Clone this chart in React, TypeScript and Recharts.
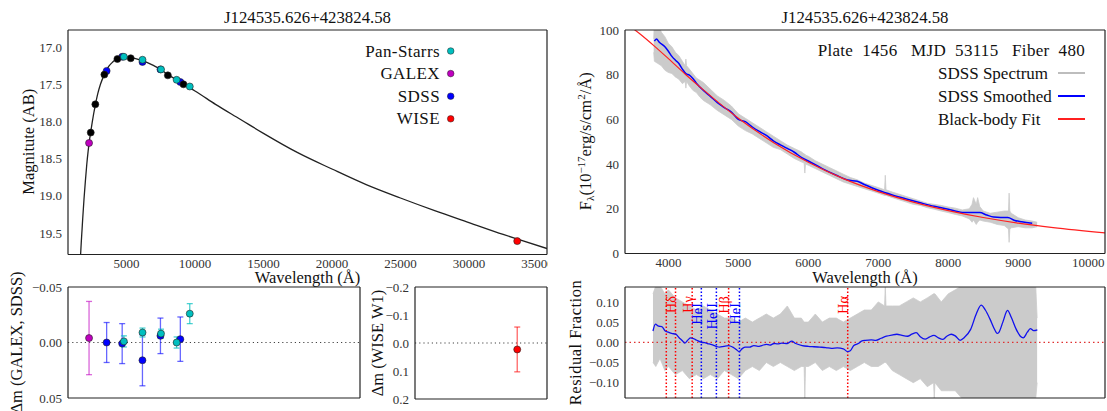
import React from "react";
import {
  ComposedChart,
  Line,
  Area,
  Scatter,
  XAxis,
  YAxis,
  ErrorBar,
  ReferenceLine,
} from "recharts";

const FONT = "'Liberation Serif', 'Times New Roman', serif";
const TITLE = "J124535.626+423824.58";

// ---------- SED panel (top left) ----------
const sedCurveWave = [
  1650, 1700, 1754, 1800, 1900, 2000, 2100, 2200, 2300, 2390, 2500, 2600, 2725, 2900, 3100,
  3385, 3700, 4000, 4335, 4800, 5310, 6100, 7000, 7500, 8020, 8660, 9160, 10000, 11500,
  13300, 15000, 17500, 20000, 22500, 25000, 27500, 30000, 32500, 33500, 35700,
];
const sedCurveMag = [
  19.79, 19.62, 19.46, 19.32, 19.04, 18.8, 18.58, 18.4, 18.25, 18.14, 18.01, 17.9, 17.78,
  17.63, 17.5, 17.37, 17.26, 17.2, 17.15, 17.13, 17.14, 17.18, 17.25, 17.3, 17.37, 17.44,
  17.5, 17.59, 17.77, 17.97, 18.16, 18.42, 18.64, 18.85, 19.03, 19.2, 19.36, 19.52, 19.58,
  19.71,
];
const modelWave = [2390, 2725, 3385, 4335, 5310, 8020, 9160];
const modelMag = [18.15, 17.77, 17.37, 17.16, 17.15, 17.38, 17.5];

const galexWave = [2267];
const galexMag = [18.29];
const galexDelta = [-0.004];
const galexErr = [0.033];

const sdssWave = [3551, 4686, 6166, 7480, 8932];
const sdssMag = [17.32, 17.13, 17.2, 17.3, 17.47];
const sdssDelta = [0.0, 0.001, 0.016, -0.006, -0.003];
const sdssErr = [0.018, 0.018, 0.023, 0.016, 0.02];

const psWave = [4810, 6170, 7520, 8660, 9620];
const psMag = [17.13, 17.17, 17.3, 17.44, 17.53];
const psDelta = [-0.001, -0.009, -0.008, 0.0, -0.026];
const psErr = [0.005, 0.004, 0.004, 0.005, 0.009];

const wiseWave = [33526];
const wiseMag = [19.61];
const wiseMagErr = [0.04];
const wiseDelta = [0.023];
const wiseErr = [0.08];

const legendNames = ["Pan-Starrs", "GALEX", "SDSS", "WISE"];
const CYAN = "#00bfbf";
const MAGENTA = "#bf00bf";
const BLUE = "#0000ff";
const RED = "#ff0000";
const legendColors = [CYAN, MAGENTA, BLUE, RED];

const sedWaveTicks = [5000, 10000, 15000, 20000, 25000, 30000, 35000];
const sedMagTicks = [17.0, 17.5, 18.0, 18.5, 19.0, 19.5];
const deltaTicks = [-0.05, 0, 0.05];
const wiseTicks = [-0.2, -0.1, 0, 0.1, 0.2];

// ---------- spectrum panel (top right) ----------
const fitWave = [3380, 3600, 3800, 4000, 4250, 4500, 5000, 5500, 6000, 6500, 7000, 7500, 8000, 8500, 9000, 9500, 10240];
const fitFlux = [103.3, 98.1, 92.8, 87.2, 80.0, 73.2, 60.5, 49.7, 40.8, 33.5, 27.7, 23.0, 19.2, 16.1, 13.6, 11.6, 9.2];

const smoothWave = [
  3800, 3830, 3870, 3950, 4000, 4050, 4100, 4150, 4200, 4250, 4300, 4350, 4400, 4500, 4600,
  4700, 4800, 4900, 4960, 5000, 5100, 5200, 5300, 5400, 5500, 5600, 5700, 5800, 5900, 6000,
  6200, 6400, 6560, 6700, 6800, 7000, 7200, 7400, 7600, 7800, 8000, 8200, 8300, 8450, 8550,
  8650, 8750, 8850, 8950, 9050, 9200,
];
const smoothFlux = [
  95.0, 96.0, 94.5, 92.5, 90.5, 88.2, 86.5, 85.0, 82.5, 80.5, 79.8, 78.3, 76.2, 73.0, 70.3,
  67.5, 65.3, 63.3, 61.2, 60.0, 59.0, 56.6, 54.6, 52.8, 50.4, 48.6, 47.0, 45.3, 43.0, 41.4,
  38.0, 35.0, 32.9, 32.3, 30.9, 28.3, 26.2, 24.4, 22.7, 21.1, 19.8, 18.4, 18.3, 18.3, 17.2,
  16.3, 16.1, 16.1, 14.8, 14.2, 13.5,
];

const specWave = [
  3790, 3800, 3850, 3900, 3950, 4000, 4050, 4100, 4150, 4200, 4240, 4250, 4260, 4300, 4350,
  4400, 4450, 4500, 4600, 4700, 4800, 4900, 5000, 5100, 5200, 5300, 5400, 5500, 5600, 5700,
  5800, 5900, 5940, 5950, 5960, 6000, 6100, 6200, 6300, 6400, 6500, 6600, 6700, 6800, 6900,
  7000, 7090, 7100, 7110, 7200, 7300, 7400, 7500, 7600, 7700, 7800, 7900, 8000, 8100, 8200,
  8300, 8340, 8360, 8400, 8420, 8450, 8500, 8600, 8700, 8800, 8860, 8870, 8880, 8900, 9000,
  9100, 9200, 9270,
];
const specLo = [
  90, 86, 85, 84, 82, 81, 80.5, 79, 78, 76, 77, 74, 77, 75, 73,
  72, 70, 68.5, 66.5, 64, 62, 60, 57, 55, 53.5, 51.5, 49.5, 47.5, 46.5, 44.5,
  42.5, 41, 40.5, 36, 40, 39.5, 38, 36.5, 35, 33.5, 32, 31, 30, 29, 28,
  27, 26, 26, 26, 25, 24, 23, 22, 21.5, 20.5, 19.8, 19, 18.3, 17.5, 16.8,
  15.5, 14, 15, 13, 14, 15, 14.5, 14, 13, 12.5, 11, 5, 11, 11.5, 12,
  11.5, 11.5, 12,
];
const specHi = [
  96, 104, 103, 99, 97, 94, 92.5, 90, 88.5, 86, 84, 87, 84, 82.5, 80.5,
  78.5, 77.5, 76.5, 73.5, 70.5, 68.5, 66, 62.5, 60.5, 58.5, 56.5, 54.5, 52.5, 50.5, 48.5,
  47, 45.5, 44.5, 44.5, 44, 43.5, 41.5, 40, 38.5, 37, 35.5, 34, 33, 31.5, 30.5,
  29.5, 28.5, 35, 28.5, 27.5, 26.5, 25.5, 24.5, 23.5, 22.5, 22, 21.5, 20.8, 20.3, 19.5,
  20, 22, 25, 22, 25, 21, 19, 18, 18.5, 19, 19, 27, 19, 18, 16,
  15, 14.5, 14,
];

const specWaveTicks = [4000, 5000, 6000, 7000, 8000, 9000, 10000];
const specFluxTicks = [0, 20, 40, 60, 80, 100];
const plateInfo = "Plate  1456   MJD  53115   Fiber  480";
const specLegendNames = ["SDSS Spectrum", "SDSS Smoothed", "Black-body Fit"];
const specLegendColors = ["#bdbdbd", "#0000ff", "#ff2020"];

// ---------- residual panel (bottom right) ----------
const resWave = [
  3780, 3815, 3860, 3906, 3955, 4000, 4046, 4106, 4150, 4200, 4232, 4280, 4317, 4360, 4406,
  4470, 4520, 4558, 4620, 4680, 4733, 4790, 4859, 4920, 4970, 5010, 5060, 5100, 5160, 5220,
  5280, 5336, 5400, 5450, 5510, 5560, 5620, 5700, 5762, 5820, 5912, 6000, 6080, 6162, 6250,
  6330, 6414, 6500, 6560, 6600, 6650, 6714, 6760, 6815, 6900, 6966, 7040, 7116, 7190, 7266,
  7340, 7417, 7480, 7542, 7600, 7669, 7730, 7794, 7860, 7919, 7980, 8044, 8100, 8169, 8230,
  8320, 8400, 8470, 8530, 8595, 8650, 8700, 8721, 8780, 8847, 8900, 8972, 9030, 9072, 9130,
  9172, 9220, 9273,
];
const resSmooth = [
  0.028, 0.045, 0.04, 0.039, 0.028, 0.025, 0.022, 0.02, 0.012, 0.004, -0.002, 0.006, 0.011,
  0.009, 0.005, 0.0, -0.001, -0.003, -0.006, -0.01, -0.012, -0.01, -0.008, -0.012, -0.018,
  -0.023, -0.015, -0.012, -0.012, -0.008, -0.01, -0.008, -0.005, -0.007, -0.003, -0.004,
  -0.002, -0.003, 0.003, -0.003, -0.008, -0.01, -0.011, -0.012, -0.013, -0.015, -0.014,
  -0.016, -0.023, -0.021, -0.008, -0.003, 0.003, 0.005, 0.006, 0.005, 0.01, 0.015, 0.018,
  0.02, 0.017, 0.015, 0.02, 0.024, 0.014, 0.008, 0.013, 0.017, 0.011, 0.007, 0.015, 0.02,
  0.016, 0.005, 0.012, 0.032, 0.07, 0.092, 0.08, 0.058, 0.036, 0.022, 0.024, 0.05, 0.079,
  0.062, 0.032, 0.015, 0.011, 0.025, 0.034, 0.029, 0.031,
];

const resBandWave = [
  3780, 3820, 3880, 3950, 4000, 4100, 4200, 4300, 4400, 4500, 4600, 4700, 4800, 4900, 5000,
  5100, 5200, 5300, 5400, 5500, 5600, 5700, 5800, 5900, 5940, 5950, 5960, 6000, 6100, 6200,
  6300, 6400, 6500, 6600, 6700, 6800, 6900, 7000, 7090, 7100, 7110, 7200, 7300, 7400, 7500,
  7600, 7700, 7790, 7800, 7810, 7900, 8000, 8100, 8200, 8300, 9250, 9270,
];
const resBandLo = [
  -0.05, -0.06, -0.04, -0.07, -0.06, -0.08, -0.07, -0.09, -0.08, -0.09, -0.08, -0.09, -0.07,
  -0.08, -0.09, -0.07, -0.06, -0.07, -0.05, -0.06, -0.05, -0.06, -0.07, -0.06, -0.06, -0.14,
  -0.06, -0.06, -0.05, -0.07, -0.06, -0.07, -0.06, -0.07, -0.06, -0.05, -0.06, -0.06, -0.05,
  -0.05, -0.05, -0.07, -0.08, -0.09, -0.1, -0.09, -0.11, -0.1, -0.14, -0.1, -0.12, -0.12,
  -0.12, -0.14, -0.14, -0.14, -0.1,
];
const resBandHi = [
  0.12, 0.14, 0.14, 0.12, 0.13, 0.11, 0.1, 0.09, 0.08, 0.09, 0.08, 0.07, 0.06, 0.06, 0.05,
  0.06, 0.05, 0.06, 0.07, 0.06, 0.07, 0.09, 0.06, 0.06, 0.05, 0.05, 0.05, 0.05, 0.07, 0.05,
  0.06, 0.06, 0.05, 0.06, 0.07, 0.08, 0.08, 0.1, 0.09, 0.14, 0.09, 0.09, 0.09, 0.1, 0.11,
  0.1, 0.11, 0.12, 0.12, 0.12, 0.1, 0.12, 0.13, 0.14, 0.14, 0.14, 0.06,
];

const lineWave = [3970, 4102, 4340, 4471, 4686, 4861, 5016, 6563];
const lineName = ["", "H\u03b4", "H\u03b3", "HeI", "HeII", "H\u03b2", "HeI", "H\u03b1"];
const resTicks = [-0.1, -0.05, 0, 0.05, 0.1];

// ---------- helpers ----------
const range = (a: number, b: number, step: number) => {
  const out: number[] = [];
  for (let v = a; v <= b + step * 1e-6; v += step) out.push(Math.round(v * 1e6) / 1e6);
  return out;
};
const zip = (xs: number[], ys: number[]) => xs.map((x, i) => ({ x, y: ys[i] }));
const fmtInt = (v: number) => String(Math.round(v));
const fmtFixed = (d: number) => (v: number) =>
  (v < -1e-9 ? "\u2212" : "") + Math.abs(v).toFixed(d);

const YW = 50;
const MT = 6;
const XH = 24;
const MB = 4;
const FRAME = { stroke: "#222", strokeWidth: 1.2 };
const TICKLINE = { stroke: "#222", strokeWidth: 0.9 };
const TICKTEXT = { fontSize: 13, fill: "#333", fontFamily: FONT };
const BAND = "#cbcbcb";

type AxesCfg = {
  xDomain: [number, number];
  yDomain: [number, number];
  xMajor: number[];
  xMinor: number[];
  yMajor: number[];
  yMinor: number[];
  xFmt?: (v: number) => string;
  yFmt: (v: number) => string;
  showX?: boolean;
  reversed?: boolean;
};

function frameAxes(c: AxesCfg) {
  const xs = { type: "number" as const, domain: c.xDomain, allowDataOverflow: true, interval: 0 as const };
  const ys = {
    type: "number" as const,
    domain: c.yDomain,
    allowDataOverflow: true,
    interval: 0 as const,
    reversed: !!c.reversed,
  };
  const inX = { mirror: true, height: 1, tick: false, tickLine: TICKLINE };
  const inY = { mirror: true, width: 1, tick: false, tickLine: TICKLINE };
  return [
    <XAxis key="x" xAxisId="x" dataKey="x" {...xs} ticks={c.xMajor} height={XH} tickSize={0} tickMargin={4}
      tickLine={false} axisLine={FRAME} tick={c.showX === false ? false : TICKTEXT} tickFormatter={c.xFmt} />,
    <XAxis key="xb" xAxisId="xb" {...xs} {...inX} ticks={c.xMajor} tickSize={5} axisLine={false} />,
    <XAxis key="xbm" xAxisId="xbm" {...xs} {...inX} ticks={c.xMinor} tickSize={2.5} axisLine={false} />,
    <XAxis key="xt" xAxisId="xt" orientation="top" {...xs} {...inX} ticks={c.xMajor} tickSize={5} axisLine={FRAME} />,
    <XAxis key="xtm" xAxisId="xtm" orientation="top" {...xs} {...inX} ticks={c.xMinor} tickSize={2.5} axisLine={false} />,
    <YAxis key="y" yAxisId="y" dataKey="y" {...ys} ticks={c.yMajor} width={YW} tickSize={0} tickMargin={6}
      tickLine={false} axisLine={FRAME} tick={TICKTEXT} tickFormatter={c.yFmt} />,
    <YAxis key="yl" yAxisId="yl" {...ys} {...inY} ticks={c.yMajor} tickSize={5} axisLine={false} />,
    <YAxis key="ylm" yAxisId="ylm" {...ys} {...inY} ticks={c.yMinor} tickSize={2.5} axisLine={false} />,
    <YAxis key="yr" yAxisId="yr" orientation="right" {...ys} {...inY} ticks={c.yMajor} tickSize={5} axisLine={FRAME} />,
    <YAxis key="yrm" yAxisId="yrm" orientation="right" {...ys} {...inY} ticks={c.yMinor} tickSize={2.5} axisLine={false} />,
  ];
}

type Frame = { L: number; R: number; T: number; B: number };

function Panel({ frame, mr = 6, children }: { frame: Frame; mr?: number; children: React.ReactNode }) {
  const width = frame.R - frame.L + YW + mr;
  const height = frame.B - frame.T + MT + XH + MB;
  return (
    <div style={{ position: "absolute", left: frame.L - YW, top: frame.T - MT, width, height }}>
      <ComposedChart width={width} height={height} margin={{ top: MT, right: mr, bottom: MB, left: 0 }}>
        {children}
      </ComposedChart>
    </div>
  );
}

const dot = (fill: string, r = 3.5) => (p: any) =>
  <circle cx={p.cx} cy={p.cy} r={r} fill={fill} stroke="#222" strokeWidth={0.6} />;

const FA: Frame = { L: 68, R: 547, T: 29.5, B: 254 };
const FB: Frame = { L: 625, R: 1105, T: 29.5, B: 253 };
const FC: Frame = { L: 68, R: 360, T: 287, B: 398 };
const FD: Frame = { L: 415, R: 547, T: 287, B: 399 };
const FE: Frame = { L: 625, R: 1105, T: 287, B: 398 };

const sedCurve = zip(sedCurveWave, sedCurveMag);
const modelPts = zip(modelWave, modelMag);
const galexPts = zip(galexWave, galexMag);
const sdssPts = zip(sdssWave, sdssMag);
const psPts = zip(psWave, psMag);
const wisePts = wiseWave.map((x, i) => ({ x, y: wiseMag[i], err: wiseMagErr[i] }));
const galexRes = galexWave.map((x, i) => ({ x, y: galexDelta[i], err: galexErr[i] }));
const sdssRes = sdssWave.map((x, i) => ({ x, y: sdssDelta[i], err: sdssErr[i] }));
const psRes = psWave.map((x, i) => ({ x, y: psDelta[i], err: psErr[i] }));
const wiseRes = wiseWave.map((x, i) => ({ x, y: wiseDelta[i], err: wiseErr[i] }));
const fitData = zip(fitWave, fitFlux);
const smoothData = zip(smoothWave, smoothFlux);
const specBand = specWave.map((x, i) => ({ x, band: [specLo[i], specHi[i]] }));
const resLine = zip(resWave, resSmooth);
const resBand = resBandWave.map((x, i) => ({ x, band: [resBandLo[i], resBandHi[i]] }));

const ids = { xAxisId: "x", yAxisId: "y" };

function lineLabel(name: string, color: string) {
  const he = name.startsWith("He");
  return (p: any) => {
    const vb = p.viewBox || {};
    return (
      <text transform={`translate(${vb.x + 0.5},${vb.y + (he ? 16 : 9)}) rotate(-90)`} textAnchor="end"
        fontSize={14.5} fill={color} fontFamily={FONT}>{name}</text>
    );
  };
}

export default function App() {
  const W = 1107;
  const H = 411;
  return (
    <div style={{ position: "absolute", left: 0, top: 0, width: W, height: H, overflow: "hidden",
      background: "#fff", fontFamily: FONT }}>
      {/* SED */}
      <Panel frame={FA} mr={1}>
        {frameAxes({ xDomain: [730, 35700], yDomain: [16.77, 19.79], xMajor: sedWaveTicks,
          xMinor: range(1000, 35000, 1000), yMajor: sedMagTicks, yMinor: range(16.8, 19.7, 0.1),
          xFmt: fmtInt, yFmt: fmtFixed(1), reversed: true })}
        <Line {...ids} data={sedCurve} dataKey="y" type="monotone" stroke="#222" strokeWidth={1.3}
          dot={false} activeDot={false} isAnimationActive={false} />
        <Scatter {...ids} data={sdssPts} shape={dot(BLUE)} isAnimationActive={false} />
        <Scatter {...ids} data={galexPts} shape={dot(MAGENTA)} isAnimationActive={false} />
        <Scatter {...ids} data={modelPts} shape={dot("#000")} isAnimationActive={false} />
        <Scatter {...ids} data={psPts} shape={dot(CYAN)} isAnimationActive={false} />
        <Scatter {...ids} data={wisePts} shape={dot(RED)} isAnimationActive={false}>
          <ErrorBar dataKey="err" direction="y" width={0} stroke={RED} strokeOpacity={0.6} strokeWidth={1.3} />
        </Scatter>
      </Panel>

      {/* spectrum */}
      <Panel frame={FB} mr={2}>
        {frameAxes({ xDomain: [3380, 10240], yDomain: [0, 100], xMajor: specWaveTicks,
          xMinor: range(3400, 10200, 200), yMajor: specFluxTicks, yMinor: range(0, 100, 5),
          xFmt: fmtInt, yFmt: fmtInt })}
        <Area {...ids} data={specBand} dataKey="band" type="linear" stroke={BAND} strokeWidth={0.8}
          fill={BAND} fillOpacity={1} dot={false} activeDot={false} isAnimationActive={false} />
        <Line {...ids} data={smoothData} dataKey="y" type="monotone" stroke="#0000ff" strokeWidth={1.5}
          dot={false} activeDot={false} isAnimationActive={false} />
        <Line {...ids} data={fitData} dataKey="y" type="monotone" stroke="#ff2020" strokeWidth={1.2}
          dot={false} activeDot={false} isAnimationActive={false} />
      </Panel>

      {/* delta m GALEX / SDSS */}
      <Panel frame={FC}>
        {frameAxes({ xDomain: [730, 22050], yDomain: [-0.05, 0.05], xMajor: [5000, 10000, 15000, 20000],
          xMinor: range(1000, 22000, 1000), yMajor: deltaTicks, yMinor: range(-0.05, 0.05, 0.01),
          yFmt: fmtFixed(2), showX: false, reversed: true })}
        <ReferenceLine {...ids} y={0} stroke="#444" strokeWidth={1.2} strokeDasharray="1.2 3" />
        <Scatter {...ids} data={galexRes} shape={dot(MAGENTA)} isAnimationActive={false}>
          <ErrorBar dataKey="err" direction="y" width={3} stroke={MAGENTA} strokeOpacity={0.6} strokeWidth={1.3} />
        </Scatter>
        <Scatter {...ids} data={sdssRes} shape={dot(BLUE)} isAnimationActive={false}>
          <ErrorBar dataKey="err" direction="y" width={3} stroke={BLUE} strokeOpacity={0.6} strokeWidth={1.3} />
        </Scatter>
        <Scatter {...ids} data={psRes} shape={dot(CYAN)} isAnimationActive={false}>
          <ErrorBar dataKey="err" direction="y" width={3} stroke={CYAN} strokeOpacity={0.7} strokeWidth={1.3} />
        </Scatter>
      </Panel>

      {/* delta m WISE */}
      <Panel frame={FD}>
        {frameAxes({ xDomain: [26060, 35700], yDomain: [-0.2, 0.2], xMajor: [30000, 35000],
          xMinor: range(27000, 35000, 1000), yMajor: wiseTicks, yMinor: range(-0.2, 0.2, 0.05),
          yFmt: fmtFixed(1), showX: false, reversed: true })}
        <ReferenceLine {...ids} y={0} stroke="#444" strokeWidth={1.2} strokeDasharray="1.2 3" />
        <Scatter {...ids} data={wiseRes} shape={dot(RED)} isAnimationActive={false}>
          <ErrorBar dataKey="err" direction="y" width={3} stroke={RED} strokeOpacity={0.6} strokeWidth={1.3} />
        </Scatter>
      </Panel>

      {/* residual */}
      <Panel frame={FE} mr={2}>
        {frameAxes({ xDomain: [3380, 10240], yDomain: [-0.138, 0.137], xMajor: specWaveTicks,
          xMinor: range(3400, 10200, 200), yMajor: resTicks, yMinor: range(-0.13, 0.13, 0.01),
          yFmt: fmtFixed(2), showX: false })}
        <Area {...ids} data={resBand} dataKey="band" type="linear" stroke={BAND} strokeWidth={0.8}
          fill={BAND} fillOpacity={1} dot={false} activeDot={false} isAnimationActive={false} />
        <ReferenceLine {...ids} y={0} stroke="#e03030" strokeWidth={1.3} strokeDasharray="1.5 3" />
        {lineWave.map((w, i) => {
          const color = lineName[i].startsWith("He") ? "#0000ff" : "#ff0000";
          return (
            <ReferenceLine key={w} {...ids} x={w} stroke={i === 0 ? "#ff0000" : color} strokeWidth={1.5}
              strokeDasharray="1.5 2" label={lineName[i] ? lineLabel(lineName[i], color) : undefined} />
          );
        })}
        <Line {...ids} data={resLine} dataKey="y" type="monotone" stroke="#1010ee" strokeWidth={1.3}
          dot={false} activeDot={false} isAnimationActive={false} />
      </Panel>

      {/* titles, axis labels, legends */}
      <svg width={W} height={H} style={{ position: "absolute", left: 0, top: 0, pointerEvents: "none" }}
        fontFamily={FONT} fill="#111">
        <text x={(FA.L + FA.R) / 2} y={22.5} textAnchor="middle" fontSize={16.8}>{TITLE}</text>
        <text x={(FB.L + FB.R) / 2} y={22.5} textAnchor="middle" fontSize={16.8}>{TITLE}</text>
        <text x={(FA.L + FA.R) / 2} y={283} textAnchor="middle" fontSize={16.5}>Wavelength (Å)</text>
        <text x={(FB.L + FB.R) / 2} y={283} textAnchor="middle" fontSize={16.5}>Wavelength (Å)</text>
        <text transform={`translate(34,${(FA.T + FA.B) / 2}) rotate(-90)`} textAnchor="middle" fontSize={16.5}>
          Magnitute (AB)
        </text>
        <text transform={`translate(591,${(FB.T + FB.B) / 2}) rotate(-90)`} textAnchor="middle" fontSize={16.5}>
          F<tspan fontSize={11} dy={3}>λ</tspan>
          <tspan dy={-3}>(10</tspan>
          <tspan fontSize={11} dy={-6}>−17</tspan>
          <tspan dy={6}>erg/s/cm</tspan>
          <tspan fontSize={11} dy={-6}>2</tspan>
          <tspan dy={6}>/Å)</tspan>
        </text>
        <text transform={`translate(22,${(FC.T + FC.B) / 2}) rotate(-90)`} textAnchor="middle" fontSize={16.5}>
          Δm (GALEX, SDSS)
        </text>
        <text transform={`translate(383,${(FD.T + FD.B) / 2}) rotate(-90)`} textAnchor="middle" fontSize={16.5}>
          Δm (WISE W1)
        </text>
        <text transform={`translate(581,${(FE.T + FE.B) / 2}) rotate(-90)`} textAnchor="middle" fontSize={16.5}
          letterSpacing={0.5}>
          Residual Fraction
        </text>

        {legendNames.map((n, i) => (
          <g key={n}>
            <text x={440} y={51 + i * 22.6 + 5.5} textAnchor="end" fontSize={17} letterSpacing={0.4}>{n}</text>
            <circle cx={450.7} cy={51 + i * 22.6} r={3.3} fill={legendColors[i]} stroke="#222" strokeWidth={0.5} />
          </g>
        ))}

        <text x={1085} y={56} textAnchor="end" fontSize={17} letterSpacing={0.3} style={{ whiteSpace: "pre" }}>
          {plateInfo}
        </text>
        {specLegendNames.map((n, i) => (
          <g key={n}>
            <text x={938} y={73 + i * 23 + 5.5} fontSize={17}>{n}</text>
            <line x1={1058} x2={1085} y1={73 + i * 23} y2={73 + i * 23} stroke={specLegendColors[i]} strokeWidth={2} />
          </g>
        ))}
      </svg>
    </div>
  );
}
